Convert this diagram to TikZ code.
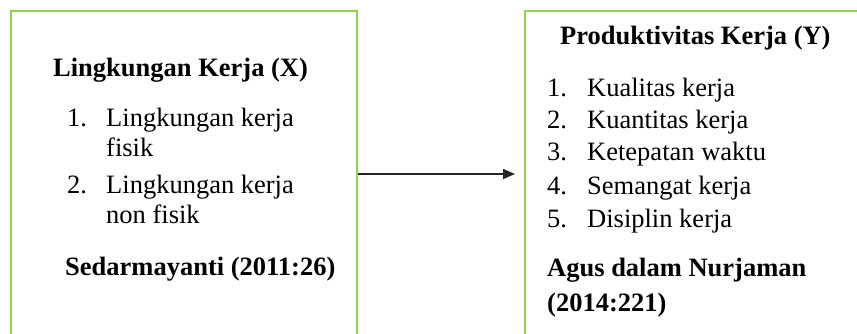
\documentclass[tikz,border=0pt]{standalone}
\usepackage{fontspec}
\setmainfont{Liberation Serif}
\usetikzlibrary{arrows.meta}
\definecolor{boxgreen}{RGB}{146,208,80}
\tikzset{
  panel/.style={draw=boxgreen,line width=2pt,minimum width=346pt,minimum height=326pt,inner sep=0pt,anchor=north west},
  txt/.style={anchor=base west,inner sep=0pt,font=\fontsize{26.5}{32}\selectfont},
  btxt/.style={txt,font=\fontsize{26.5}{32}\selectfont\bfseries},
  link/.style={-{Triangle[length=12pt,width=10pt]},line width=1.5pt,black!85}
}
\begin{document}
\begin{tikzpicture}[x=1pt,y=-1pt]
\useasboundingbox (0,0) rectangle (857,333);
\begin{scope}
\clip (0,0) rectangle (857,333);
\node[panel] (L) at (10,10) {};
\node[panel] (R) at (524,10) {};
\end{scope}
\coordinate (tipR) at ([xshift=-9pt]R.west);
\draw[link] (L.east) -- (tipR);
% left texts
\node[btxt] (lt) at (53,76) {Lingkungan Kerja (X)};
\node[txt] (ln1) at (67,126) {1.};
\node[txt] (li1) at (106,126) {Lingkungan kerja};
\node[txt] (li1b) at (106,156) {fisik};
\node[txt] (ln2) at (67,193) {2.};
\node[txt] (li2) at (106,193) {Lingkungan kerja};
\node[txt] (li2b) at (106,223) {non fisik};
\node[btxt] (ls) at (65,275) {Sedarmayanti (2011:26)};
% right texts
\node[btxt] (rt) at (560,44) {Produktivitas Kerja (Y)};
\node[txt] (rn1) at (547,96) {1.};
\node[txt] (ri1) at (587,96) {Kualitas kerja};
\node[txt] (rn2) at (547,128) {2.};
\node[txt] (ri2) at (587,128) {Kuantitas kerja};
\node[txt] (rn3) at (547,160) {3.};
\node[txt] (ri3) at (587,160) {Ketepatan waktu};
\node[txt] (rn4) at (547,194) {4.};
\node[txt] (ri4) at (587,194) {Semangat kerja};
\node[txt] (rn5) at (547,227) {5.};
\node[txt] (ri5) at (587,227) {Disiplin kerja};
\node[btxt] (rs1) at (547,276) {Agus dalam Nurjaman};
\node[btxt] (rs2) at (547,311) {(2014:221)};
\end{tikzpicture}
\end{document}
